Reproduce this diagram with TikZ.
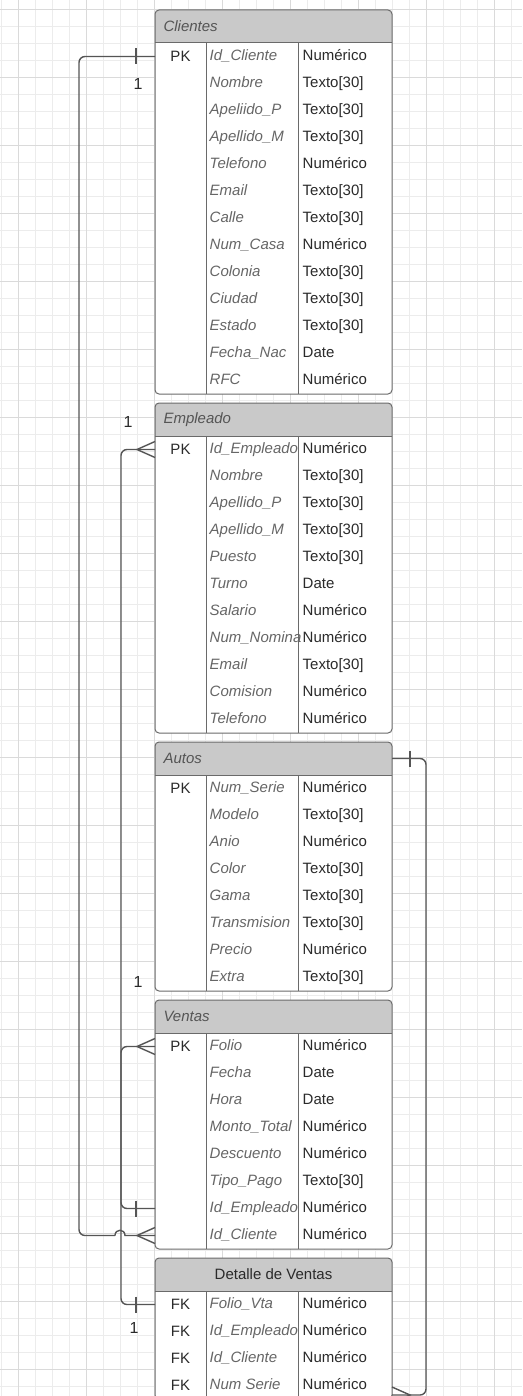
\documentclass[tikz,border=0pt]{standalone}
\usepackage{fontspec}
\setmainfont{Liberation Sans}
\definecolor{lc}{HTML}{555555}
\definecolor{bc}{HTML}{6A6A6A}
\definecolor{hdr}{HTML}{C9C9C9}
\definecolor{gmin}{HTML}{ECECEC}
\definecolor{gmaj}{HTML}{DADADA}
\definecolor{ttlc}{HTML}{555555}
\definecolor{attrc}{HTML}{666666}
\definecolor{typc}{HTML}{2A2A2A}
\tikzset{
  border/.style={draw=bc, line width=1pt},
  conn/.style={draw=lc, line width=1.4pt},
  tblbox/.style={fill=white, draw=none, rounded corners=4pt, minimum width=237pt, inner sep=0pt, outer sep=0pt},
  hdrbox/.style={inner sep=0pt, outer sep=0pt, minimum width=237pt, minimum height=33pt},
  ttlwest/.style={anchor=west, xshift=5pt, text=ttlc, font=\fontsize{15}{18}\selectfont\itshape},
  ttlcenter/.style={anchor=center, text=typc, font=\fontsize{15}{18}\selectfont},
  keycell/.style={inner sep=0pt, outer sep=0pt, minimum width=51pt, minimum height=27pt, text=typc, font=\fontsize{15}{18}\selectfont},
  attr/.style={anchor=west, inner sep=0pt, text height=11pt, text depth=3pt, text=attrc, font=\fontsize{15}{18}\selectfont\itshape},
  typ/.style={anchor=west, inner sep=0pt, text height=11pt, text depth=3pt, text=typc, font=\fontsize{15}{18}\selectfont},
  card/.style={inner sep=0pt, text=typc, font=\fontsize{16}{18}\selectfont}
}
% #1 name, #2 top, #3 rows count, #4 title placement, #5 title, #6 rows
\newcommand{\erTable}[6]{%
  \pgfmathsetmacro\erh{33+27*#3}%
  \pgfmathsetmacro\erbot{#2+33+27*#3}%
  \node[tblbox, minimum height=\erh pt, anchor=north west] (#1) at (155,#2) {};
  \node[hdrbox, anchor=north west] (#1-h) at (155,#2) {};
  \begin{scope}
    \clip[rounded corners=4pt] (#1.north west) rectangle (#1.south east);
    \fill[hdr] (#1-h.north west) rectangle (#1-h.south east);
  \end{scope}
  \draw[border] (#1-h.south west) -- (#1-h.south east);
  \draw[border] (206,{#2+33}) -- (206,\erbot);
  \draw[border] (298,{#2+33}) -- (298,\erbot);
  \draw[border, rounded corners=4pt] (#1.north west) rectangle (#1.south east);
  \node[ttl#4] (#1-t) at (#1-h.#4) {#5};
  \foreach \k/\a/\t [count=\i] in {#6} {
    \pgfmathsetmacro\ry{#2+33+27*(\i-1)+13.5}
    \node[keycell] (#1-\i) at (180.5,\ry) {\k};
    \node[attr] (#1-\i-a) at (209.5,\ry) {\a};
    \node[typ] (#1-\i-t) at (302.5,\ry) {\t};
  }
}
\newcommand{\crowW}[1]{\draw[conn] ([yshift=8pt]#1) -- ([xshift=-18pt]#1) -- ([yshift=-8pt]#1);}
\newcommand{\barW}[1]{\draw[conn] ([xshift=-19pt,yshift=8pt]#1) -- ([xshift=-19pt,yshift=-8pt]#1);}
\begin{document}
\begin{tikzpicture}[x=1pt,y=-1pt]
\useasboundingbox (0,0) rectangle (522,1396);
\clip (0,0) rectangle (522,1396);
\fill[white] (0,0) rectangle (522,1396);
% grid
\foreach \gx in {1,18,...,522} \draw[gmin, line width=0.8pt] (\gx,0) -- (\gx,1396);
\foreach \gy in {9,26,...,1396} \draw[gmin, line width=0.8pt] (0,\gy) -- (522,\gy);
\foreach \gx in {18,86,...,522} \draw[gmaj, line width=0.8pt] (\gx,0) -- (\gx,1396);
\foreach \gy in {9,77,...,1396} \draw[gmaj, line width=0.8pt] (0,\gy) -- (522,\gy);

\erTable{clientes}{10}{13}{west}{Clientes}{PK/Id\_Cliente/Numérico, /Nombre/Texto[30], /Apeliido\_P/Texto[30], /Apellido\_M/Texto[30], /Telefono/Numérico, /Email/Texto[30], /Calle/Texto[30], /Num\_Casa/Numérico, /Colonia/Texto[30], /Ciudad/Texto[30], /Estado/Texto[30], /Fecha\_Nac/Date, /RFC/Numérico}
\erTable{empleado}{403}{11}{west}{Empleado}{PK/Id\_Empleado/Numérico, /Nombre/Texto[30], /Apellido\_P/Texto[30], /Apellido\_M/Texto[30], /Puesto/Texto[30], /Turno/Date, /Salario/Numérico, /Num\_Nomina/Numérico, /Email/Texto[30], /Comision/Numérico, /Telefono/Numérico}
\erTable{autos}{742}{8}{west}{Autos}{PK/Num\_Serie/Numérico, /Modelo/Texto[30], /Anio/Numérico, /Color/Texto[30], /Gama/Texto[30], /Transmision/Texto[30], /Precio/Numérico, /Extra/Texto[30]}
\erTable{ventas}{1000}{8}{west}{Ventas}{PK/Folio/Numérico, /Fecha/Date, /Hora/Date, /Monto\_Total/Numérico, /Descuento/Numérico, /Tipo\_Pago/Texto[30], /Id\_Empleado/Numérico, /Id\_Cliente/Numérico}
\erTable{detalle}{1258}{4}{center}{Detalle de Ventas}{FK/Folio\_Vta/Numérico, FK/Id\_Empleado/Numérico, FK/Id\_Cliente/Numérico, FK/Num Serie/Numérico}

% Clientes -> Ventas (with hop)
\coordinate (c1) at ([xshift=-76pt]clientes-1.west);
\coordinate (hopA) at ([xshift=-40pt]ventas-8.west);
\coordinate (hopB) at ([xshift=-30pt]ventas-8.west);
\draw[conn, rounded corners=6pt] (clientes-1.west) -- (c1) |- (hopA);
\draw[conn] (hopA) .. controls ([yshift=7pt]hopA) and ([yshift=7pt]hopB) .. (hopB) -- (ventas-8.west);
\barW{clientes-1.west}
\crowW{ventas-8.west}
% Empleado -> Ventas
\draw[conn, rounded corners=6pt] (empleado-1.west) -| ([xshift=-34pt]ventas-7.west) -- (ventas-7.west);
\crowW{empleado-1.west}
\barW{ventas-7.west}
% Ventas -> Detalle
\draw[conn, rounded corners=6pt] (ventas-1.west) -| ([xshift=-34pt]detalle-1.west) -- (detalle-1.west);
\crowW{ventas-1.west}
\barW{detalle-1.west}
% Autos -> Detalle
\coordinate (dns) at (392,1395);
\draw[conn, rounded corners=6pt] (autos-h.east) -- ++(34,0) |- (dns);
\draw[conn] ([xshift=18pt]autos-h.east) ++(0,-8) -- ++(0,16);
\draw[conn] ([yshift=8pt]dns) -- ([xshift=18pt]dns) -- ([yshift=-8pt]dns);

% cardinalities
\node[card] (k1) at (138,84) {1};
\node[card] (k2) at (128,422) {1};
\node[card] (k3) at (138,982) {1};
\node[card] (k4) at (134,1328) {1};
\end{tikzpicture}
\end{document}
